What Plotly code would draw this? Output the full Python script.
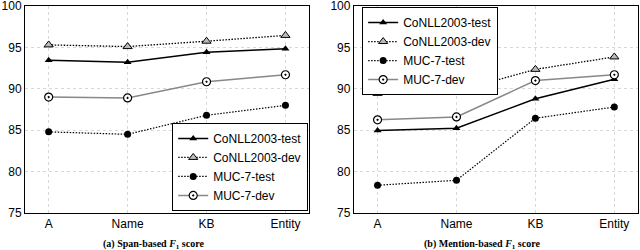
import plotly.graph_objects as go
from plotly.subplots import make_subplots

categories = ["A", "Name", "KB", "Entity"]
series_names = ["CoNLL2003-test", "CoNLL2003-dev", "MUC-7-test", "MUC-7-dev"]

span_conll_test = [93.45, 93.2, 94.4, 94.85]
span_conll_dev = [95.3, 95.1, 95.75, 96.45]
span_muc_test = [84.8, 84.5, 86.8, 88.0]
span_muc_dev = [89.0, 88.9, 90.85, 91.7]

mention_conll_test = [84.95, 85.25, 88.8, 91.15]
mention_conll_dev = [89.45, 89.7, 92.35, 93.85]
mention_muc_test = [78.35, 78.95, 86.45, 87.8]
mention_muc_dev = [86.25, 86.6, 91.0, 91.7]

y_ticks = [75, 80, 85, 90, 95, 100]
panel_titles = ["<b>(a) Span-based <i>F</i><sub>1</sub> score</b>",
                "<b>(b) Mention-based <i>F</i><sub>1</sub> score</b>"]

styles = [
    dict(line=dict(color="black", width=1.5, dash="solid"),
         marker=dict(symbol="triangle-up", size=7, color="black")),
    dict(line=dict(color="black", width=1.3, dash="1.5px,1.5px"),
         marker=dict(symbol="triangle-up", size=8, color="#bbbbbb", line=dict(color="black", width=1))),
    dict(line=dict(color="black", width=1.2, dash="1.5px,1.5px"),
         marker=dict(symbol="circle", size=7, color="black")),
    dict(line=dict(color="#888888", width=1.5, dash="solid"),
         marker=dict(symbol="circle-dot", size=8, color="white", line=dict(color="black", width=1.2))),
]

fig = make_subplots(rows=1, cols=2, horizontal_spacing=0.073)

panels = [
    [span_conll_test, span_conll_dev, span_muc_test, span_muc_dev],
    [mention_conll_test, mention_conll_dev, mention_muc_test, mention_muc_dev],
]
for p, data in enumerate(panels):
    for name, vals, st in zip(series_names, data, styles):
        fig.add_trace(go.Scatter(
            x=categories, y=vals, name=name, mode="lines+markers",
            line=st["line"], marker=st["marker"],
            legend="legend" if p == 0 else "legend2",
        ), row=1, col=p + 1)

axis_common = dict(showline=True, linecolor="black", linewidth=1, mirror=True,
                   showgrid=True, gridcolor="#d8d8d8", griddash="dot", gridwidth=1,
                   ticks="", zeroline=False, automargin=False, ticklabeloverflow="allow",
                   tickfont=dict(family="Liberation Sans, Arial", size=12, color="black"))
for c in (1, 2):
    fig.update_xaxes(range=[-0.3, 3.3], **axis_common, row=1, col=c)
    fig.update_yaxes(range=[75, 100.001], tickvals=y_ticks, **axis_common, row=1, col=c)

fig.update_layout(
    width=640, height=250,
    margin=dict(l=25, r=2, t=6, b=37, autoexpand=False),
    plot_bgcolor="white", paper_bgcolor="white",
    font=dict(family="Liberation Sans, Arial", size=12, color="black"),
    legend=dict(x=0.462, y=0.01, xanchor="right", yanchor="bottom",
                bgcolor="white", bordercolor="black", borderwidth=1,
                font=dict(size=12), tracegroupgap=0),
    legend2=dict(x=0.55, y=0.995, xanchor="left", yanchor="top",
                 bgcolor="white", bordercolor="black", borderwidth=1,
                 font=dict(size=12), tracegroupgap=0),
)

title_x_px = [153, 482]
for t, xp in zip(panel_titles, title_x_px):
    fig.add_annotation(text=t, x=(xp - 25) / 613, y=0, xref="paper", yref="paper",
                       yshift=-31, showarrow=False, xanchor="center", yanchor="middle",
                       font=dict(family="Liberation Serif, Times New Roman", size=10, color="black"))

fig.write_html("out.html", config={"displayModeBar": False},
               post_script="document.body.style.margin='0';")
